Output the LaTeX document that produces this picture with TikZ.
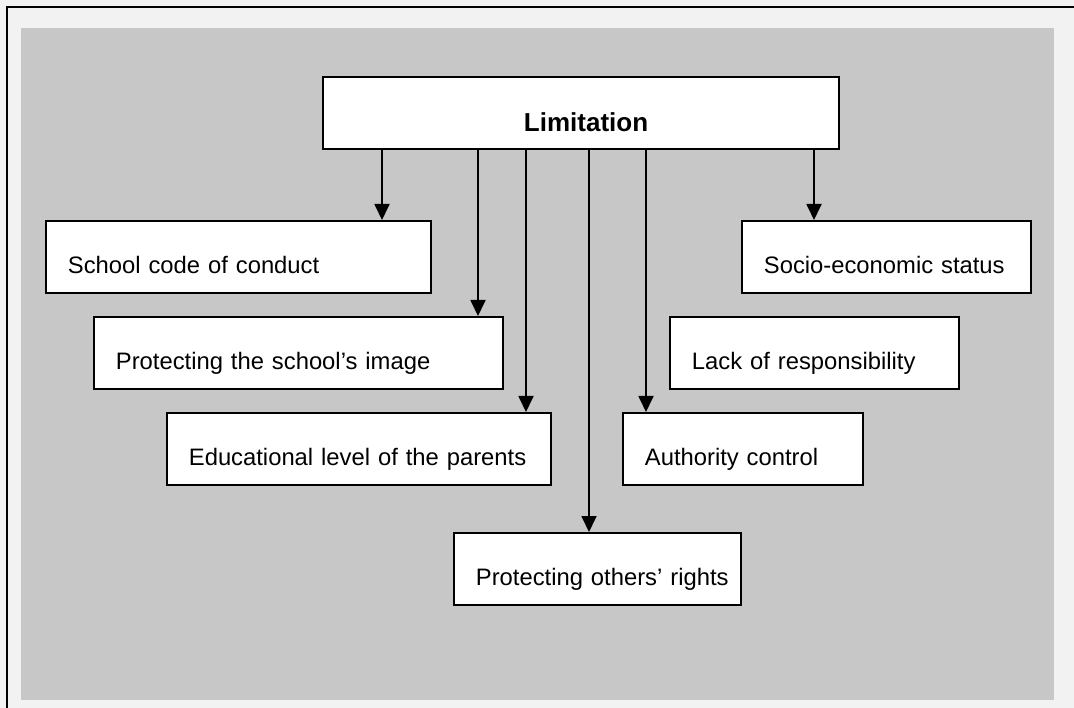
\documentclass[tikz,border=0pt]{standalone}
\usepackage{fontspec}
\setmainfont{Liberation Sans}
\usetikzlibrary{calc}
\usetikzlibrary{arrows.meta}
\definecolor{paper}{RGB}{242,242,242}
\definecolor{panelgray}{RGB}{199,199,199}

\tikzset{
  factor/.style={draw=black, line width=1.8pt, fill=white, anchor=north west,
    inner xsep=0pt, inner ysep=0pt, text width=#1, align=left,
    text height=53pt, text depth=19pt, font=\fontsize{23.8}{28}\selectfont,
    execute at begin node={\hspace*{22pt}}},
  mainbox/.style={draw=black, line width=2.2pt, fill=white, anchor=north west,
    inner xsep=0pt, inner ysep=0pt, text width=#1, align=center,
    text height=54pt, text depth=18pt, font=\bfseries\fontsize{26}{30}\selectfont},
  arr/.style={-{Triangle[width=15pt,length=16pt]}, line width=1.8pt}
}

\begin{document}
\begin{tikzpicture}[x=1pt,y=-1pt]
\useasboundingbox (0,0) rectangle (1074,708);
\fill[paper] (0,0) rectangle (1074,708);
\fill[panelgray] (21,28) rectangle (1054,700);
\draw[line width=2.5pt] (7,708) -- (7,7) -- (1074,7);

\node[mainbox=516pt] (lim) at (322,76) {\hspace*{10pt}Limitation};

\node[factor=385pt] (sc)  at (45,220)  {School code of conduct};
\node[factor=289pt] (ses) at (741,220) {Socio-economic status};
\node[factor=409pt] (pi)  at (93,316)  {Protecting the school’s image};
\node[factor=289pt] (lr)  at (669,316) {Lack of responsibility};
\node[factor=384pt] (edu) at (166,412) {Educational level of the parents};
\node[factor=240pt] (ac)  at (622,412) {Authority control};
\node[factor=287pt] (po)  at (453,532) {Protecting others’ rights};

\coordinate (x1) at (382,0);
\coordinate (x2) at (478,0);
\coordinate (x3) at (526,0);
\coordinate (x4) at (589,0);
\coordinate (x5) at (646,0);
\coordinate (x6) at (814,0);

\draw[arr] (lim.south -| x1) -- (sc.north -| x1);
\draw[arr] (lim.south -| x2) -- (pi.north -| x2);
\draw[arr] (lim.south -| x3) -- (edu.north -| x3);
\draw[arr] (lim.south -| x4) -- (po.north -| x4);
\draw[arr] (lim.south -| x5) -- (ac.north -| x5);
\draw[arr] (lim.south -| x6) -- (ses.north -| x6);
\end{tikzpicture}
\end{document}
